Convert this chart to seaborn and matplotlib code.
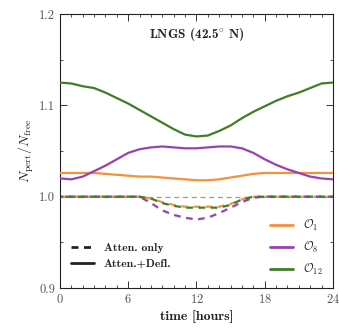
import numpy as np
import pandas as pd
import matplotlib
matplotlib.use("Agg")
import matplotlib.pyplot as plt
from matplotlib.lines import Line2D
from matplotlib.ticker import MultipleLocator
import seaborn as sns

# ---- data ----
hours = list(range(25))
o1_full = [1.026, 1.026, 1.026, 1.026, 1.025, 1.024, 1.023, 1.022, 1.022, 1.021, 1.020, 1.019, 1.018,
           1.018, 1.019, 1.021, 1.023, 1.025, 1.026, 1.026, 1.026, 1.026, 1.026, 1.026, 1.026]
o8_full = [1.020, 1.019, 1.022, 1.028, 1.034, 1.041, 1.048, 1.052, 1.054, 1.055, 1.054, 1.053, 1.053,
           1.054, 1.055, 1.055, 1.053, 1.048, 1.041, 1.035, 1.030, 1.026, 1.022, 1.020, 1.019]
o12_full = [1.125, 1.124, 1.121, 1.119, 1.114, 1.108, 1.102, 1.095, 1.088, 1.081, 1.074, 1.068, 1.066,
            1.067, 1.072, 1.078, 1.086, 1.093, 1.099, 1.105, 1.110, 1.114, 1.119, 1.124, 1.125]
o1_att = [1.0, 1.0, 1.0, 1.0, 1.0, 1.0, 1.0, 1.0, 0.998, 0.994, 0.991, 0.989, 0.989,
          0.989, 0.989, 0.992, 0.997, 1.0, 1.0, 1.0, 1.0, 1.0, 1.0, 1.0, 1.0]
o8_att = [1.0, 1.0, 1.0, 1.0, 1.0, 1.0, 1.0, 1.0, 0.993, 0.985, 0.980, 0.977, 0.975,
          0.977, 0.982, 0.988, 0.994, 0.999, 1.0, 1.0, 1.0, 1.0, 1.0, 1.0, 1.0]
o12_att = [1.0, 1.0, 1.0, 1.0, 1.0, 1.0, 1.0, 1.0, 0.998, 0.993, 0.990, 0.988, 0.988,
           0.988, 0.988, 0.991, 0.997, 1.0, 1.0, 1.0, 1.0, 1.0, 1.0, 1.0, 1.0]
labels = [r"$\mathcal{O}_1$", r"$\mathcal{O}_8$", r"$\mathcal{O}_{12}$"]
colors = ["#f7903a", "#9b3fb5", "#3f7f23"]
xticks = [0, 6, 12, 18, 24]
yticks = [0.9, 1.0, 1.1, 1.2]

sns.set_style("ticks")
plt.rcParams["font.family"] = ["cmr10", "DejaVu Serif"]
plt.rcParams["mathtext.fontset"] = "cm"
plt.rcParams["axes.formatter.use_mathtext"] = True

fig = plt.figure(figsize=(3.39, 3.28), dpi=100)
ax = fig.add_axes([0.177, 0.122, 0.805, 0.835])

ax.axhline(1.0, color="#9a9a9a", lw=0.9, ls=(0, (4, 3)), zorder=1)

att = [o1_att, o8_att, o12_att]
full = [o1_full, o8_full, o12_full]
for i in range(3):
    df = pd.DataFrame({"t": hours, "v": att[i]})
    sns.lineplot(data=df, x="t", y="v", ax=ax, color=colors[i], lw=1.6,
                 linestyle=(i * 1.5, (3, 2.5)), legend=False, zorder=2)
for i in range(3):
    df = pd.DataFrame({"t": hours, "v": full[i]})
    sns.lineplot(data=df, x="t", y="v", ax=ax, color=colors[i], lw=1.6,
                 legend=False, zorder=3)

ax.set_xlim(0, 24)
ax.set_ylim(0.9, 1.2)
ax.set_xticks(xticks)
ax.set_yticks(yticks)
ax.set_yticklabels([f"{v:.1f}" for v in yticks])
ax.xaxis.set_minor_locator(MultipleLocator(1))
ax.yaxis.set_minor_locator(MultipleLocator(0.05))
ax.tick_params(which="both", direction="in", top=True, right=True, labelsize=9, colors="#333333",
               labelcolor="#555555")
ax.tick_params(which="major", length=5, width=0.7)
ax.tick_params(which="minor", length=2.5, width=0.6)
for s in ax.spines.values():
    s.set_linewidth(0.8)
    s.set_color("#222222")

ax.set_xlabel("time [hours]", fontsize=10, family=["cmb10", "DejaVu Serif"], color="#222222", labelpad=3)
ax.set_ylabel(r"$N_{\rm pert}/N_{\rm free}$", fontsize=10, color="#222222", labelpad=2)

ax.text(0.5, 0.925, r"LNGS (42.5$^{\circ}$ N)", transform=ax.transAxes, ha="center", va="center",
        fontsize=9.5, family=["cmb10", "DejaVu Serif"], color="#222222")

h1 = [Line2D([], [], color="#222222", lw=2, ls=(0, (2.5, 2))),
      Line2D([], [], color="#222222", lw=2, ls="-")]
leg1 = ax.legend(h1, ["Atten. only", "Atten.+Defl."], loc="lower left", frameon=False,
                 bbox_to_anchor=(0.0, 0.03), handlelength=2.0,
                 prop={"family": ["cmb10", "DejaVu Serif"], "size": 8.5}, labelspacing=0.5)
ax.add_artist(leg1)
h2 = [Line2D([], [], color=c, lw=2) for c in colors]
ax.legend(h2, labels, loc="lower right", frameon=False, bbox_to_anchor=(1.0, 0.0),
          handlelength=2.0, fontsize=8.5, labelspacing=0.6)

fig.savefig("out.png", dpi=100)
